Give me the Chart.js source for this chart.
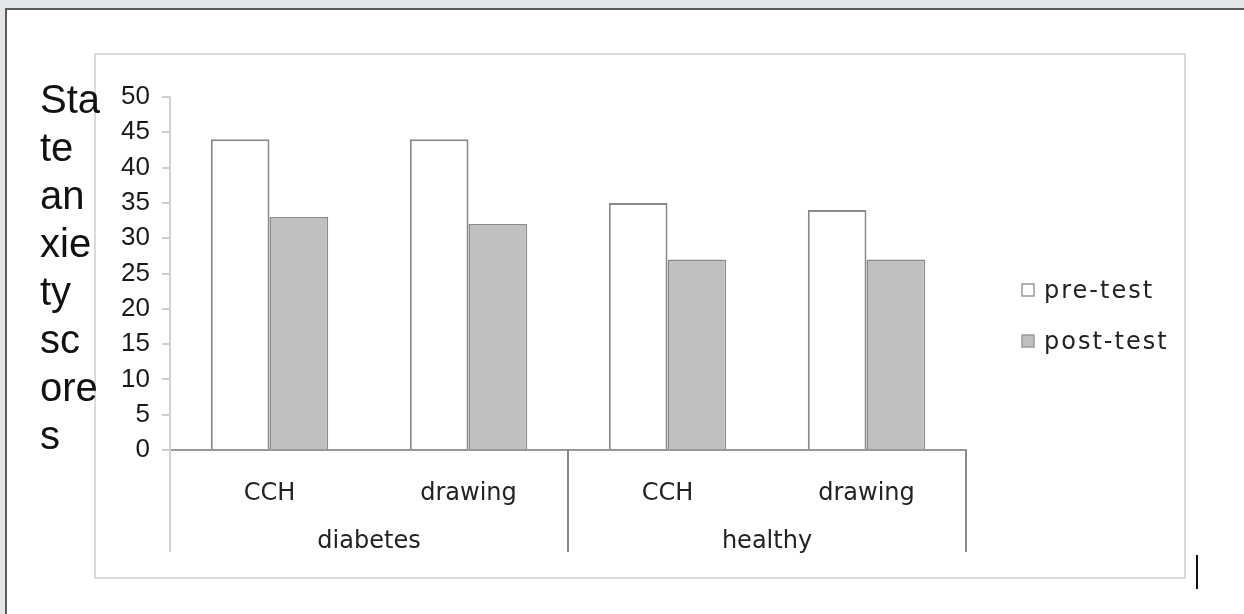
<!DOCTYPE html>
<html lang="en">
<head>
    <meta charset="UTF-8">
    <title>State anxiety scores</title>
    <script src="https://cdn.jsdelivr.net/npm/chart.js"></script>
    <style>
        body { margin: 0; background: #e2e6e8; }
    </style>
</head>
<body>
    <canvas id="anxietyChart" width="1244" height="614"></canvas>
    <script>
        // values
        const subgroups = ['CCH', 'drawing', 'CCH', 'drawing'];
        const groups = ['diabetes', 'healthy'];
        const preTest = [44, 44, 35, 34];
        const postTest = [33, 32, 27, 27];
        const yTitleLines = ['Sta', 'te', 'an', 'xie', 'ty', 'sc', 'ore', 's'];

        const labelFont = '24px "DejaVu Sans"';

        const framePlugin = {
            id: 'frame',
            beforeDraw(chart) {
                const c = chart.ctx;
                c.save();
                c.fillStyle = '#e2e6e8';
                c.fillRect(0, 0, chart.width, chart.height);
                c.fillStyle = '#ffffff';
                c.fillRect(6, 9, chart.width - 6, chart.height - 9);
                c.strokeStyle = '#5a5a5a';
                c.lineWidth = 2;
                c.beginPath();
                c.moveTo(6, chart.height);
                c.lineTo(6, 9);
                c.lineTo(chart.width, 9);
                c.stroke();
                // inner box
                c.strokeStyle = '#dadada';
                c.lineWidth = 2;
                c.strokeRect(95, 54, 1090, 524);
                c.restore();
            },
            afterDraw(chart) {
                const c = chart.ctx;
                const x = chart.scales.x;
                const area = chart.chartArea;
                c.save();

                // y title, wrapped like the original
                c.font = '40px "Liberation Sans"';
                c.fillStyle = '#111';
                c.textAlign = 'left';
                c.textBaseline = 'alphabetic';
                yTitleLines.forEach((t, i) => c.fillText(t, 40, 113 + i * 48));

                // group separators and labels
                const perGroup = subgroups.length / groups.length;
                const step = (x.right - x.left) / subgroups.length;
                for (let g = 0; g <= groups.length; g++) {
                    const px = x.left + g * perGroup * step;
                    c.strokeStyle = g === 0 ? '#d0d0d0' : '#888';
                    c.lineWidth = 2;
                    c.beginPath();
                    c.moveTo(px, area.bottom);
                    c.lineTo(px, area.bottom + 102);
                    c.stroke();
                }
                c.font = labelFont;
                c.fillStyle = '#222';
                c.textAlign = 'center';
                c.textBaseline = 'middle';
                groups.forEach((name, g) => {
                    const a = x.getPixelForValue(g * perGroup);
                    const b = x.getPixelForValue(g * perGroup + perGroup - 1);
                    c.fillText(name, (a + b) / 2, 542);
                });

                // legend
                c.textAlign = 'left';
                c.letterSpacing = '2px';
                chart.data.datasets.forEach((ds, i) => {
                    const y = 290 + i * 51;
                    c.fillStyle = ds.backgroundColor;
                    c.fillRect(1022, y - 6, 12, 12);
                    c.strokeStyle = '#999';
                    c.lineWidth = 1.5;
                    c.strokeRect(1022, y - 6, 12, 12);
                    c.fillStyle = '#222';
                    c.fillText(ds.label, 1044, y + 2);
                });
                c.letterSpacing = '0px';

                // text cursor mark
                c.strokeStyle = '#111';
                c.lineWidth = 2;
                c.beginPath();
                c.moveTo(1197, 555);
                c.lineTo(1197, 589);
                c.stroke();
                c.restore();
            }
        };

        const ctx = document.getElementById('anxietyChart').getContext('2d');
        new Chart(ctx, {
            type: 'bar',
            data: {
                labels: subgroups,
                datasets: [
                    {
                        label: 'pre-test',
                        data: preTest,
                        backgroundColor: '#ffffff',
                        borderColor: '#8a8a8a',
                        borderWidth: 2
                    },
                    {
                        label: 'post-test',
                        data: postTest,
                        backgroundColor: '#c0c0c0',
                        borderColor: '#8a8a8a',
                        borderWidth: 1.5
                    }
                ]
            },
            options: {
                responsive: false,
                animation: false,
                layout: { padding: { left: 0, top: 97, right: 278, bottom: 0 } },
                plugins: {
                    legend: { display: false },
                    tooltip: { enabled: false }
                },
                datasets: {
                    bar: { barPercentage: 1, categoryPercentage: 0.59 }
                },
                scales: {
                    x: {
                        afterFit(scale) { scale.height = 164; },
                        grid: { display: false },
                        border: { color: '#999', width: 2 },
                        ticks: {
                            padding: 21,
                            color: '#222',
                            font: { family: 'DejaVu Sans', size: 24 },
                            maxRotation: 0
                        }
                    },
                    y: {
                        min: 0,
                        max: 50,
                        afterFit(scale) { scale.width = 170; },
                        grid: { drawOnChartArea: false, color: '#cfcfcf', tickLength: 8, lineWidth: 2 },
                        border: { color: '#d0d0d0', width: 2 },
                        ticks: {
                            stepSize: 5,
                            padding: 12,
                            color: '#1a1a1a',
                            font: { family: 'Liberation Sans', size: 26 }
                        }
                    }
                }
            },
            plugins: [framePlugin]
        });
    </script>
</body>
</html>
